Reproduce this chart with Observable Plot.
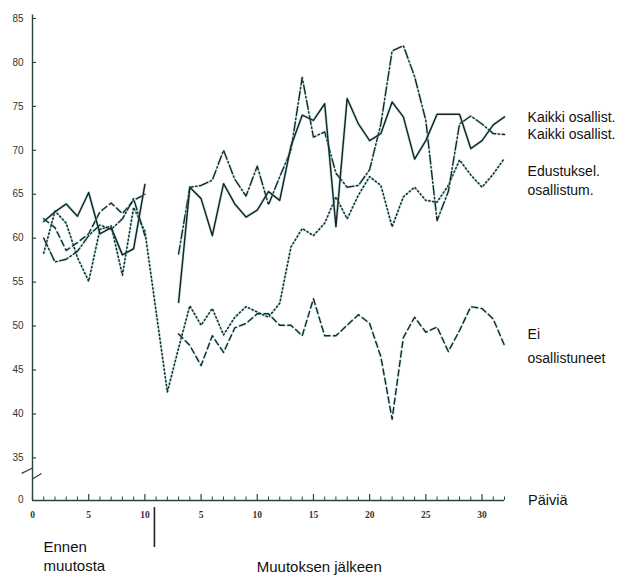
<!DOCTYPE html>
<html><head><meta charset="utf-8">
<script src="https://cdn.jsdelivr.net/npm/d3@7"></script>
<script src="https://cdn.jsdelivr.net/npm/@observablehq/plot@0.6"></script>
<style>body{margin:0;background:#fff}#chart svg{display:block}</style>
</head><body><div id="chart"></div>
<script>
// ---- data ----
const beforeDays = [1,2,3,4,5,6,7,8,9,10];
const afterDays = [2,3,4,5,6,7,8,9,10,11,12,13,14,15,16,17,18,19,20,21,22,23,24,25,26,27,28,29,30,31,32];

const kaikki1Before = [61.9, 63.0, 63.9, 62.5, 65.2, 60.5, 61.2, 58.1, 58.8, 66.1];
const kaikki1After  = [null, 52.7, 65.8, 64.5, 60.3, 66.2, 63.9, 62.4, 63.2, 65.3, 64.3, 70.5, 74.0, 73.4, 75.3, 61.3, 75.9, 73.0, 71.1, 71.9, 75.5, 73.8, 69.0, 71.1, 74.1, 74.1, 74.1, 70.2, 71.1, 72.9, 73.8];

const kaikki2Before = [60.0, 57.3, 57.6, 58.5, 60.3, 61.5, 61.0, 62.2, 64.5, 60.3];
const kaikki2After  = [null, 58.2, 65.8, 66.0, 66.6, 70.0, 66.7, 64.8, 68.2, 63.8, 67.0, 70.0, 78.3, 71.5, 72.1, 67.4, 65.8, 66.0, 67.8, 73.0, 81.3, 81.9, 78.4, 73.4, 62.0, 65.3, 73.0, 73.9, 73.0, 71.9, 71.8];

const edusBefore = [58.3, 63.1, 61.7, 57.8, 55.1, 61.0, 61.4, 55.8, 63.5, 60.8];
const edusAfter  = [42.5, 47.5, 52.3, 50.1, 52.0, 49.0, 51.0, 52.2, 51.6, 51.0, 52.6, 59.0, 61.1, 60.3, 61.7, 64.7, 62.2, 64.9, 67.0, 66.0, 61.3, 64.7, 65.8, 64.3, 64.1, 66.0, 68.9, 67.2, 65.8, 67.3, 69.1];

const eiBefore = [62.2, 61.2, 58.6, 59.5, 60.5, 63.0, 64.0, 62.8, 64.3, 65.0];
const eiAfter  = [null, 49.1, 47.8, 45.5, 48.9, 47.0, 49.8, 50.3, 51.4, 51.4, 50.1, 50.1, 48.9, 53.1, 48.9, 48.9, 50.1, 51.3, 50.3, 46.5, 39.4, 48.7, 51.0, 49.3, 49.9, 47.1, 49.5, 52.2, 52.0, 50.8, 47.8];

const yTickValues = [35, 40, 45, 50, 55, 60, 65, 70, 75, 80, 85];
const yZeroLabel = "0";
const xTickLabels = ["0","5","10","5","10","15","20","25","30"];
const seriesLabels = ["Kaikki osallist.", "Kaikki osallist.", "Edustuksel.\nosallistum.", "Ei\nosallistuneet"];
const axisLabelX = "Päiviä";
const beforeLabel = "Ennen\nmuutosta";
const afterLabel = "Muutoksen jälkeen";

// ---- layout helpers ----
const afterOffset = 10;          // after-day d sits at position 10 + d
const lastPos = 42;
const yBase = 30.15;             // where the broken axis shows "0"
const changeMark = 10.85;

function rows(before, after, connect) {
  const r = before.map((v, i) => ({t: beforeDays[i], v}));
  if (!connect) r.push({t: afterOffset + 0.5, v: NaN});
  after.forEach((v, i) => { if (v != null) r.push({t: afterOffset + afterDays[i], v}); });
  return r;
}
const sK1 = rows(kaikki1Before, kaikki1After, false);
const sK2 = rows(kaikki2Before, kaikki2After, false);
const sEd = rows(edusBefore, edusAfter, true);
const sEi = rows(eiBefore, eiAfter, false);

const xAll = d3.range(0, lastPos + 1);
const xMajor = xAll.filter(d => d % 5 === 0);
const xMinor = xAll.filter(d => d % 5 !== 0);

const ink = "#1b2424";
const halo = "#7fd0d0";
const axisInk = "#284545";
const font = "Liberation Sans, Arial, sans-serif";

function seriesMarks(data, dash, w) {
  return [
    Plot.line(data, {x: "t", y: "v", stroke: halo, strokeWidth: w + 1.6, strokeOpacity: 0.35, strokeDasharray: dash}),
    Plot.line(data, {x: "t", y: "v", stroke: ink, strokeWidth: w, strokeDasharray: dash})
  ];
}

const breakMark = [
  {x: -0.92, y: 33.26, s: 1}, {x: 0, y: 33.85, s: 1},
  {x: 0, y: 32.6, s: 2}, {x: 0.76, y: 33.2, s: 2}
];

const labelRows = [
  {text: seriesLabels[0], y: 73.75, lh: 1},
  {text: seriesLabels[1], y: 71.75, lh: 1},
  {text: seriesLabels[2], y: 66.7, lh: 1.4},
  {text: seriesLabels[3], y: 48.0, lh: 1.65}
];

const chart = Plot.plot({
  width: 629,
  height: 576,
  marginLeft: 0, marginRight: 0, marginTop: 0, marginBottom: 0,
  x: {domain: [0, lastPos], range: [32, 504], axis: null},
  y: {domain: [yBase, 85], range: [500, 18], axis: null},
  style: {fontFamily: font, background: "#fff"},
  marks: [
    // axes
    Plot.ruleX([0], {y1: yBase, y2: 85.4, stroke: axisInk, strokeWidth: 1.4}),
    Plot.ruleY([yBase], {x1: 0, x2: lastPos, stroke: axisInk, strokeWidth: 1.3}),
    Plot.line(breakMark, {x: "x", y: "y", z: "s", stroke: axisInk, strokeWidth: 1.3}),
    Plot.ruleY(yTickValues, {x1: 0, x2: 0, insetRight: -4, stroke: axisInk, strokeWidth: 1.2}),
    Plot.text(yTickValues, {x: 0, y: d => d, dx: -9, textAnchor: "end", fontSize: 10, fill: "#333"}),
    Plot.text([yZeroLabel], {x: 0, y: yBase, dx: -9, dy: -1, textAnchor: "end", fontSize: 10, fill: "#333"}),
    Plot.ruleX(xMinor, {y1: yBase, y2: yBase, insetTop: -3.5, stroke: axisInk, strokeWidth: 1}),
    Plot.ruleX(xMajor, {y1: yBase, y2: yBase, insetTop: -6, stroke: axisInk, strokeWidth: 1.2}),
    Plot.text(xMajor, {x: d => d, y: yBase, dy: 14, text: (d, i) => xTickLabels[i], fontSize: 9.5, fontWeight: "bold", fontFamily: "Liberation Serif, serif", fill: "#333"}),
    Plot.ruleX([changeMark], {y1: 29.35, y2: 24.8, stroke: ink, strokeWidth: 1.6}),
    // series
    ...seriesMarks(sEd, "1.3,2.6", 1.5),
    ...seriesMarks(sEi, "6,3.5", 1.4),
    ...seriesMarks(sK2, "9,2.5,1.5,2.5", 1.4),
    ...seriesMarks(sK1, null, 1.5),
    // labels
    ...labelRows.map(r => Plot.text([r.text], {x: 44.05, y: r.y, textAnchor: "start", lineAnchor: "middle", lineHeight: r.lh, fontSize: 14, fill: "#111"})),
    Plot.text([axisLabelX], {x: 44.1, y: yBase, textAnchor: "start", fontSize: 14.5, fill: "#111"}),
    Plot.text([beforeLabel], {x: 0.98, y: 23.9, textAnchor: "start", lineAnchor: "middle", lineHeight: 1.3, fontSize: 15, fill: "#111"}),
    Plot.text([afterLabel], {x: 19.95, y: 22.6, textAnchor: "start", fontSize: 15, fill: "#111"})
  ]
});
document.getElementById("chart").appendChild(chart);
</script>
</body></html>
